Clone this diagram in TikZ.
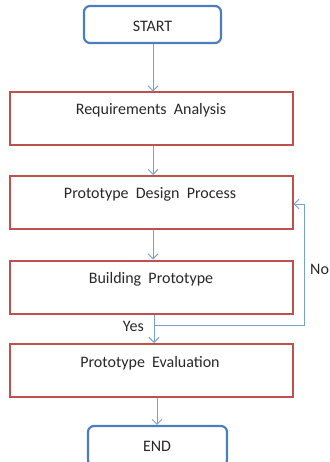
\documentclass[tikz,border=0pt]{standalone}
\usepackage{fontspec}
\setmainfont{Carlito}
\usetikzlibrary{arrows.meta}
\definecolor{termblue}{RGB}{74,126,193}
\definecolor{boxred}{RGB}{192,80,77}
\definecolor{arrblue}{RGB}{120,160,212}
\definecolor{txtgray}{RGB}{40,40,40}
\tikzset{
  term/.style={draw=termblue, line width=2.2pt, rounded corners=6pt, inner sep=0pt},
  procbox/.style={draw=boxred, line width=2pt, inner sep=0pt, minimum width=283pt, minimum height=53pt},
  txt/.style={text=txtgray, font=\fontsize{16}{18}\selectfont, inner sep=0pt},
  flow/.style={draw=arrblue, line width=0.9pt, -{Straight Barb[length=5pt,width=10pt,line width=0.9pt]}},
}
\begin{document}
\begin{tikzpicture}[x=1pt,y=-1pt]
\useasboundingbox (0,0) rectangle (329,462);
\node[term, minimum width=137pt, minimum height=37pt] (start) at (152.5,24.5) {};
\node[txt] (startt) at (152.5,26) {START};
\node[procbox] (req) at (151,119) {};
\node[txt] (reqt) at (151,110) {Requirements\ \ Analysis};
\node[procbox] (des) at (151,202.5) {};
\node[txt] (dest) at (150,194) {Prototype\ \ Design\ \ Process};
\node[procbox] (bld) at (151,287) {};
\node[txt] (bldt) at (151,279) {Building\ \ Prototype};
\node[procbox] (eva) at (151,370.5) {};
\node[txt] (evat) at (150,363) {Prototype\ \ Evaluation};
\node[term, minimum width=139pt, minimum height=40pt] (end) at (157.5,446) {};
\node[txt] (endt) at (157,446) {END};
\coordinate (sp) at (154,325);
\coordinate (cr) at (304,325);
\coordinate (ct) at (304,204);
\draw[flow] (start.south -| 153,0) -- (req.north -| 153,0);
\draw[flow] (req.south -| 153,0) -- (des.north -| 153,0);
\draw[flow] (des.south -| 153,0) -- (bld.north -| 153,0);
\draw[flow] (bld.south -| 154,0) -- (eva.north -| 154,0);
\draw[flow] (eva.south -| 157,0) -- (end.north -| 157,0);
\draw[flow] (sp) -- (cr) -- (ct) -- (des.east |- ct);
\node[txt, anchor=east] (yes) at (144,326) {Yes};
\node[txt, anchor=west] (no) at (310,269) {No};
\end{tikzpicture}
\end{document}
